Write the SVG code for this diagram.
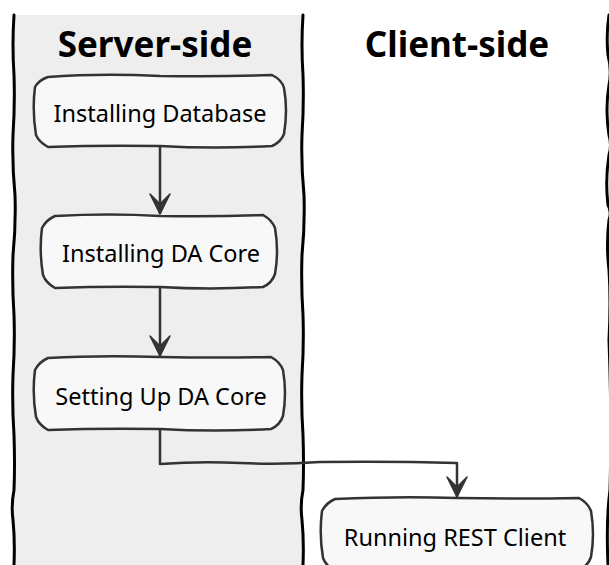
<svg xmlns="http://www.w3.org/2000/svg" width="609" height="565" viewBox="0 0 609 565">
  <style>
    .lane-border { fill: none; stroke: #000; stroke-width: 3; stroke-linecap: round; }
    .title { font-family: "Noto Sans", "Open Sans", sans-serif; font-weight: bold; font-size: 35px; fill: #000; text-anchor: middle; }
    .node path { fill: #F8F8F8; stroke: #333; stroke-width: 2.5; stroke-linejoin: round; }
    .node text { font-family: "Noto Sans", "Open Sans", sans-serif; font-size: 23.5px; fill: #000; text-anchor: middle; }
    .edge { fill: none; stroke: #333; stroke-width: 2.5; stroke-linejoin: round; }
  </style>
  <defs>
    <marker id="arrow" viewBox="-22 -12 24 24" refX="0" refY="0" markerWidth="24" markerHeight="24" markerUnits="userSpaceOnUse" orient="auto">
      <path d="M0,0 L-20,-10 L-10,0 L-20,10 Z" fill="#333" stroke="#333" stroke-width="1.5" stroke-linejoin="round"/>
    </marker>
  </defs>

  <!-- swimlanes -->
  <g id="lanes">
    <rect x="14" y="15" width="289" height="550" fill="#EEEEEE"/>
    <path class="lane-border" d="M14,15 Q12,45 14,75 Q15,105 13,135 Q12,165 15,195 Q16,225 13,255 Q12,285 14,315 Q15,345 13,375 Q12,405 14,435 Q15,465 14,490 Q11,505 13,520 Q15,540 14,565"/>
    <path class="lane-border" d="M303,15 Q301,45 303,75 Q304,105 302,135 Q301,165 304,195 Q305,225 302,255 Q301,285 303,315 Q304,345 302,375 Q301,405 303,435 Q304,465 303,490 Q300,505 302,520 Q304,540 303,565"/>
    <path class="lane-border" d="M609,15 Q606,35 608,55 Q612,70 609,85 Q605,110 609,135 Q612,145 609,155 Q605,180 608,205 Q612,212 609,220 Q606,245 609,270 Q611,300 609,340 Q612,420 610,490 Q606,520 608,565"/>
    <text class="title" x="155" y="57">Server-side</text>
    <text class="title" x="457" y="57">Client-side</text>
  </g>

  <!-- connectors -->
  <g id="connectors">
    <path class="edge" d="M160,147 L160,214" marker-end="url(#arrow)"/>
    <path class="edge" d="M160,288 L160,356" marker-end="url(#arrow)"/>
    <path class="edge" d="M160,430 L160,464 Q200,461 240,463 Q280,465 320,462 Q390,461 457,463 L457,497" marker-end="url(#arrow)"/>
  </g>

  <!-- activities -->
  <g id="installing-database" class="node">
    <path d="M48,77 Q100,73 160,76 Q220,77 272,75 Q282,80 284,88 Q288,110 284,134 Q281,142 272,146 Q215,149 160,146 Q100,145 48,147 Q39,142 36,135 Q32,110 35,87 Q39,80 48,77 Z"/>
    <text x="160" y="122">Installing Database</text>
  </g>
  <g id="installing-da-core" class="node">
    <path d="M55,216 Q110,213 160,216 Q215,217 263,215 Q272,220 275,228 Q279,251 275,274 Q272,283 263,287 Q210,290 160,287 Q105,286 55,288 Q46,283 43,275 Q39,251 42,228 Q46,220 55,216 Z"/>
    <text x="161" y="262">Installing DA Core</text>
  </g>
  <g id="setting-up-da-core" class="node">
    <path d="M48,358 Q100,355 160,357 Q220,358 271,357 Q280,362 283,370 Q287,393 283,416 Q280,425 271,429 Q215,432 160,429 Q100,428 48,430 Q39,425 36,417 Q32,393 35,370 Q39,362 48,358 Z"/>
    <text x="161" y="405">Setting Up DA Core</text>
  </g>
  <g id="running-rest-client" class="node">
    <path d="M335,499 Q400,496 457,498 Q520,499 579,498 Q588,503 591,511 Q595,534 591,557 Q588,566 579,570 Q520,573 457,570 Q395,569 335,571 Q326,566 323,558 Q319,534 322,511 Q326,503 335,499 Z"/>
    <text x="455" y="546">Running REST Client</text>
  </g>
</svg>
